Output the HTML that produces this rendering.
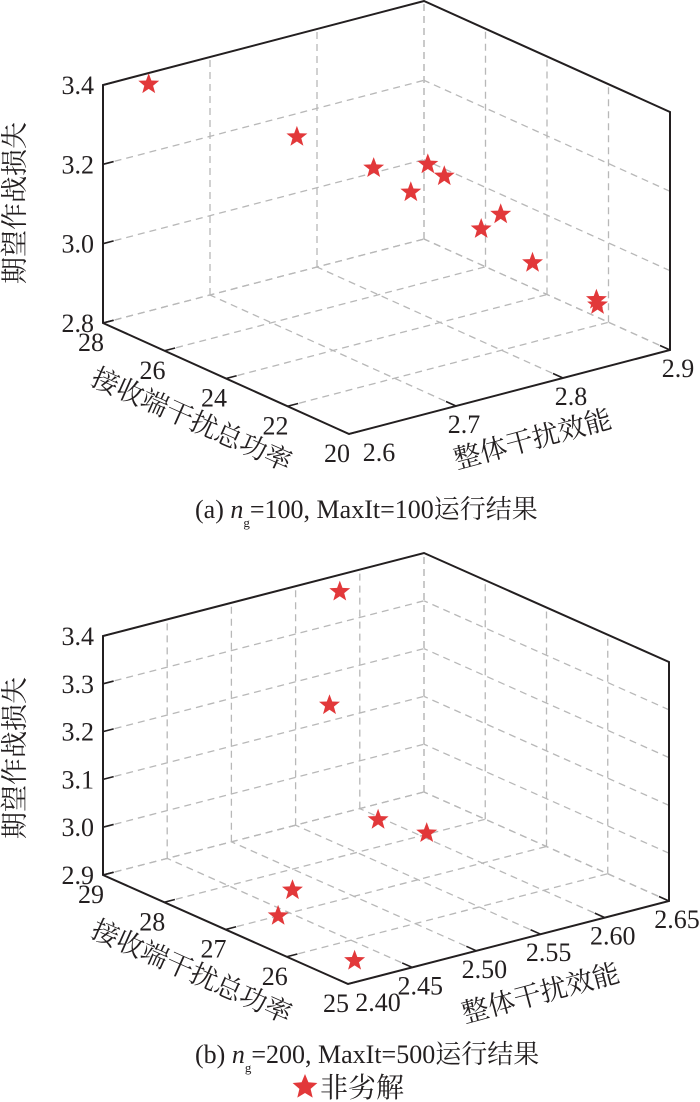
<!DOCTYPE html>
<html><head><meta charset="utf-8"><style>
html,body{margin:0;padding:0;background:#fff;width:700px;height:1102px;overflow:hidden}
svg{display:block}
text{font-family:"Liberation Serif","Noto Serif CJK SC",serif;fill:#231f20}
.cjk{font-family:"Liberation Serif","Noto Serif CJK SC","Noto Sans CJK SC",serif}
</style></head><body>
<svg id="svg" width="700" height="1102" viewBox="0 0 700 1102"></svg>
<script>
// ---- Chart (a) data ----
const aXTicks = [2.6, 2.7, 2.8, 2.9];
const aXTickLabels = ["2.6", "2.7", "2.8", "2.9"];
const aYTicks = [20, 22, 24, 26, 28];
const aYTickLabels = ["20", "22", "24", "26", "28"];
const aZTicks = [2.8, 3.0, 3.2, 3.4];
const aZTickLabels = ["2.8", "3.0", "3.2", "3.4"];
const aEff = [2.614, 2.695, 2.738, 2.803, 2.804, 2.744, 2.828, 2.781, 2.829, 2.860, 2.861];
const aPower = [27, 25, 24, 24.5, 24, 23, 23, 22, 22, 21, 21];
const aLoss = [3.427, 3.307, 3.233, 3.179, 3.166, 3.203, 3.088, 3.119, 3.000, 2.920, 2.906];
// ---- Chart (b) data ----
const bXTicks = [2.40, 2.45, 2.50, 2.55, 2.60, 2.65];
const bXTickLabels = ["2.40", "2.45", "2.50", "2.55", "2.60", "2.65"];
const bYTicks = [25, 26, 27, 28, 29];
const bYTickLabels = ["25", "26", "27", "28", "29"];
const bZTicks = [2.9, 3.0, 3.1, 3.2, 3.3, 3.4];
const bZTickLabels = ["2.9", "3.0", "3.1", "3.2", "3.3", "3.4"];
const bEff = [2.489, 2.481, 2.495, 2.509, 2.476, 2.441, 2.429];
const bPower = [27, 27, 26.5, 26, 27.5, 27, 25.5];
const bLoss = [3.545, 3.313, 3.092, 3.083, 2.901, 2.900, 2.900];

const NS = "http://www.w3.org/2000/svg";
const svg = document.getElementById("svg");
function mk(tag, attrs, parent) {
  const e = document.createElementNS(NS, tag);
  for (const k in attrs) e.setAttribute(k, attrs[k]);
  (parent || svg).appendChild(e);
  return e;
}
function starPath(cx, cy, R) {
  const r = R * 0.42; let d = "";
  for (let i = 0; i < 10; i++) {
    const rad = i % 2 ? r : R;
    const a = -Math.PI / 2 + i * Math.PI / 5;
    d += (i ? "L" : "M") + (cx + rad * Math.cos(a)).toFixed(1) + " " + (cy + rad * Math.sin(a)).toFixed(1);
  }
  return d + "Z";
}

function drawChart(id, geo, xt, xtl, yt, ytl, zt, ztl, xs, ys, zs) {
  const g = mk("g", {});
  
  
  const x0 = xt[0], x1 = xt[xt.length - 1], y0 = yt[0], y1 = yt[yt.length - 1], z0 = zt[0], z1 = zt[zt.length - 1];
  function P(x, y, z) {
    const fx = (x - x0) / (x1 - x0), fy = (y - y0) / (y1 - y0), fz = (z - z0) / (z1 - z0);
    return [geo.ox + geo.X[0] * fx + geo.Y[0] * fy, geo.oy + geo.X[1] * fx + geo.Y[1] * fy - geo.Z * fz];
  }
  const grid = mk("g", {stroke: "#b8b8b8", "stroke-width": 1.3, "stroke-dasharray": "7,5", fill: "none"}, g);
  
  
  function L(a, b, parent) { return mk("line", {x1: a[0], y1: a[1], x2: b[0], y2: b[1]}, parent); }
  xt.forEach(x => L(P(x, y1, z0), P(x, y1, z1), grid));
  zt.forEach(z => L(P(x0, y1, z), P(x1, y1, z), grid));
  yt.forEach(y => L(P(x1, y, z0), P(x1, y, z1), grid));
  zt.forEach(z => L(P(x1, y0, z), P(x1, y1, z), grid));
  xt.forEach(x => L(P(x, y0, z0), P(x, y1, z0), grid));
  yt.forEach(y => L(P(x0, y, z0), P(x1, y, z0), grid));
  const box = mk("g", {stroke: "#231f20", "stroke-width": 2, fill: "none", "stroke-linejoin": "miter"}, g);
  
  
  const pts = [P(x0, y1, z1), P(x0, y1, z0), P(x0, y0, z0), P(x1, y0, z0), P(x1, y0, z1), P(x1, y1, z1)];
  mk("polygon", {points: pts.map(p => p.join(",")).join(" ")}, box);
  const tk = mk("g", {stroke: "#231f20", "stroke-width": 1.6}, g);
  const ux = [geo.X[0] / Math.hypot(...geo.X), geo.X[1] / Math.hypot(...geo.X)];
  const uy = [geo.Y[0] / Math.hypot(...geo.Y), geo.Y[1] / Math.hypot(...geo.Y)];
  zt.forEach(z => { const p = P(x0, y1, z); L(p, [p[0] + ux[0] * 11, p[1] + ux[1] * 11], tk); });
  yt.forEach(y => { const p = P(x0, y, z0); L(p, [p[0] + ux[0] * 11, p[1] + ux[1] * 11], tk); });
  xt.forEach(x => { const p = P(x, y0, z0); L(p, [p[0] + uy[0] * 11, p[1] + uy[1] * 11], tk); });
  zt.forEach((z, i) => {
    const p = P(x0, y1, z);
    const t = mk("text", {x: p[0] - 9, y: p[1] + 9, "text-anchor": "end", "font-size": 26}, g);
    
    
    t.textContent = ztl[i];
  });
  yt.forEach((y, i) => {
    const p = P(x0, y, z0);
    const t = mk("text", {x: p[0] - 12, y: p[1] + 28, "text-anchor": "middle", "font-size": 26}, g);
    
    
    t.textContent = ytl[i];
  });
  xt.forEach((x, i) => {
    const p = P(x, y0, z0);
    const t = mk("text", {x: p[0] + 8 + (i === 0 ? 22 : 0), y: p[1] + 27, "text-anchor": "middle", "font-size": 26}, g);
    
    
    t.textContent = xtl[i];
  });
  const zt1 = mk("text", {x: 0, y: 0, "text-anchor": "middle", "font-size": 27, class: "cjk",
    transform: `translate(${geo.zTitle[0]},${geo.zTitle[1]}) rotate(-90)`}, g);
  
  
  zt1.textContent = "期望作战损失";
  const yt1 = mk("text", {x: 0, y: 0, "text-anchor": "middle", "font-size": 27, class: "cjk",
    transform: `translate(${geo.yTitle[0]},${geo.yTitle[1]}) rotate(24)`}, g);
  
  
  yt1.textContent = "接收端干扰总功率";
  const xt1 = mk("text", {x: 0, y: 0, "text-anchor": "middle", "font-size": 27, class: "cjk",
    transform: `translate(${geo.xTitle[0]},${geo.xTitle[1]}) rotate(-15)`}, g);
  
  
  xt1.textContent = "整体干扰效能";
  xs.forEach((x, i) => {
    const p = P(x, ys[i], zs[i]);
    const s = mk("path", {d: starPath(p[0], p[1], 11), fill: "#e2383a"}, g);
    
    
  });
}

drawChart("chart-a", {ox: 349, oy: 434, X: [321, -84], Y: [-246, -111], Z: 238,
  zTitle: [24, 203], yTitle: [188, 428], xTitle: [535, 448]},
  aXTicks, aXTickLabels, aYTicks, aYTickLabels, aZTicks, aZTickLabels, aEff, aPower, aLoss);
drawChart("chart-b", {ox: 348, oy: 984, X: [321, -83], Y: [-245, -109], Z: 239,
  zTitle: [24, 758], yTitle: [188, 980], xTitle: [543, 1002]},
  bXTicks, bXTickLabels, bYTicks, bYTickLabels, bZTicks, bZTickLabels, bEff, bPower, bLoss);
</script>
<div style="position:absolute;left:0;top:0;width:700px;height:1102px;pointer-events:none">
<svg width="700" height="1102">
<text x="195" y="518" font-size="26" class="cjk">(a) <tspan font-style="italic">n</tspan><tspan font-size="13" dy="9">g</tspan><tspan dy="-9">=100</tspan>, MaxIt=100运行结果</text>
<text x="195" y="1063" font-size="26" class="cjk">(b) <tspan font-style="italic">n</tspan><tspan font-size="13" dy="9">g</tspan><tspan dy="-9">=200</tspan>, MaxIt=500运行结果</text>
<g>
<path d="M305 1074 L308.4 1082.2 L317.4 1083 L310.6 1088.9 L312.7 1097.6 L305 1093 L297.3 1097.6 L299.4 1088.9 L292.6 1083 L301.6 1082.2 Z" fill="#e2383a"/>
<text x="320" y="1097" font-size="28" class="cjk">非劣解</text>
</g>
</svg></div>
</body></html>
